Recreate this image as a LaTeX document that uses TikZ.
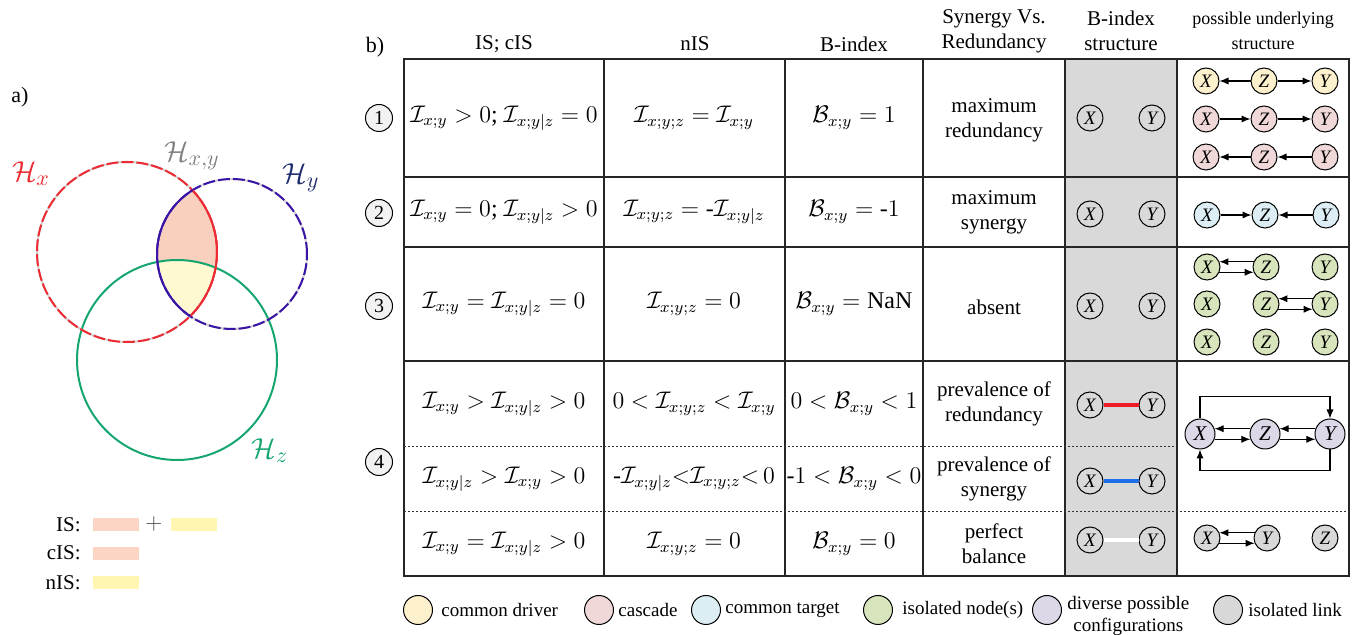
\documentclass[tikz,border=0pt]{standalone}
\usepackage{fontspec}
\setmainfont{Liberation Serif}
\usetikzlibrary{arrows.meta,calc}
\definecolor{hxred}{HTML}{EC2B33}
\definecolor{hyblue}{HTML}{3A14A6}
\definecolor{hylab}{HTML}{1C2A6E}
\definecolor{hzgreen}{HTML}{14A66E}
\definecolor{lensfill}{HTML}{F9CFBE}
\definecolor{corefill}{HTML}{FFF9D2}
\definecolor{legsalmon}{HTML}{FCD5C4}
\definecolor{legyellow}{HTML}{FFF6B2}
\definecolor{cdriver}{HTML}{FDF0CC}
\definecolor{ccascade}{HTML}{F0D8D8}
\definecolor{ctarget}{HTML}{DCEEF3}
\definecolor{cisol}{HTML}{D8E4BC}
\definecolor{cdiverse}{HTML}{DDD8E8}
\definecolor{clink}{HTML}{D8D8D8}
\definecolor{colgrey}{HTML}{D9D9D9}
\definecolor{bred}{HTML}{EE1C24}
\definecolor{bblue}{HTML}{1F6FEA}
\newcommand{\myI}{\mathcal{I}}
\newcommand{\myB}{\mathcal{B}}
\begin{document}
\begin{tikzpicture}[x=0.5pt,y=-0.5pt,
  txt/.style={align=center,inner sep=0pt,font=\rmfamily\fontsize{10.5}{12.5}\selectfont},
  hdr/.style={align=center,inner sep=0pt,font=\rmfamily\fontsize{10.5}{12.5}\selectfont},
  hdrsmall/.style={align=center,inner sep=0pt,font=\rmfamily\fontsize{9}{12.5}\selectfont},
  mth/.style={inner sep=0pt,font=\rmfamily\fontsize{12}{14}\selectfont},
  numc/.style={circle,draw,line width=0.5pt,fill=black!5,minimum size=13.5pt,inner sep=0pt,font=\rmfamily\fontsize{10}{10}\selectfont},
  snode/.style={circle,draw,line width=0.5pt,minimum size=13pt,inner sep=0pt,font=\rmfamily\fontsize{9.5}{10}\selectfont\itshape},
  bignode/.style={snode,minimum size=15pt,font=\rmfamily\fontsize{10.5}{10}\selectfont\itshape},
  arr/.style={-{Latex[length=4.5pt,width=3.6pt]},line width=0.55pt},
  tline/.style={line width=0.75pt,black!85},
  dotline/.style={line width=0.5pt,dash pattern=on 1.2pt off 0.8pt,black!80},
  legc/.style={circle,draw,line width=0.5pt,minimum size=14.5pt,inner sep=0pt},
  legt/.style={anchor=west,inner sep=0pt,align=center,font=\rmfamily\fontsize{9.5}{11}\selectfont},
  hlab/.style={inner sep=0pt,font=\fontsize{15}{16}\selectfont}]
\useasboundingbox (0,0) rectangle (1356,635);

% ---------------- a) Venn diagram
\node[txt,font=\rmfamily\fontsize{11}{12}\selectfont] (la) at (20,97) {a)};
\begin{scope}
  \clip (127,252) circle[radius=45pt];
  \fill[lensfill] (232,254) circle[radius=37.5pt];
  \clip (232,254) circle[radius=37.5pt];
  \fill[corefill] (177,360) circle[radius=50pt];
\end{scope}
\draw[hzgreen,line width=1pt] (177,360) circle[radius=50pt];
\draw[black!18,line width=1pt] (127,252) circle[radius=45pt];
\draw[black!18,line width=1pt] (232,254) circle[radius=37.5pt];
\draw[hxred,line width=1pt,dash pattern=on 6pt off 1.5pt] (127,252) circle[radius=45pt];
\draw[hyblue,line width=1pt,dash pattern=on 6pt off 1.5pt] (232,254) circle[radius=37.5pt];
\begin{scope}
  \clip (232,254) circle[radius=37.5pt];
  \draw[hxred,line width=1pt] (127,252) circle[radius=45pt];
\end{scope}
\begin{scope}
  \clip (127,252) circle[radius=45pt];
  \draw[hyblue,line width=1pt] (232,254) circle[radius=37.5pt];
\end{scope}
\node[hlab,text=hxred] (hx) at (31,174) {$\mathcal{H}_x$};
\node[hlab,text=black!50] (hxy) at (192,156) {$\mathcal{H}_{x,y}$};
\node[hlab,text=hylab] (hy) at (301,178) {$\mathcal{H}_y$};
\node[hlab,text=hzgreen] (hz) at (270,451) {$\mathcal{H}_z$};

% legend a)
\node[txt,anchor=east] (lis) at (81,525) {IS:};
\node[txt,anchor=east] (lcis) at (81,553) {cIS:};
\node[txt,anchor=east] (lnis) at (81,583) {nIS:};
\fill[legsalmon] (93,518) rectangle (139,531);
\node[txt,text=black!70] (lplus) at (154,524) {$+$};
\fill[legyellow] (171,518) rectangle (217,531);
\fill[legsalmon] (93,547) rectangle (139,560);
\fill[legyellow] (93,576) rectangle (139,589);

% ---------------- b) table
\node[txt,font=\rmfamily\fontsize{11}{12}\selectfont] (lb) at (375,47) {b)};
\fill[colgrey] (1065,59) rectangle (1177,576);
\draw[tline] (404,59) rectangle (1349,576);
\foreach \xx in {604,785,923,1065,1177} \draw[tline] (\xx,59) -- (\xx,576);
\foreach \yy in {177,247,361} \draw[tline] (404,\yy) -- (1349,\yy);
\draw[dotline] (404,447) -- (1177,447);
\draw[dotline] (404,512) -- (1349,512);

% headers
\node[hdr] (hd1) at (504,44) {IS; cIS};
\node[hdr] (hd2) at (695,44) {nIS};
\node[hdr] (hd3) at (854,44) {B-index};
\node[hdr] (hd4) at (994,31) {Synergy Vs.\\Redundancy};
\node[hdr] (hd5) at (1121,31) {B-index\\structure};
\node[hdrsmall] (hd6) at (1263,31) {possible underlying\\structure};

% row numbers
\node[numc] (n1) at (379,118) {1};
\node[numc] (n2) at (379,213) {2};
\node[numc] (n3) at (379,306) {3};
\node[numc] (n4) at (379,462) {4};

% row 1
\node[mth] (r1a) at (504,118) {$\myI_{x;y} > 0$; $\myI_{x;y|z} = 0$};
\node[mth] (r1b) at (694,118) {$\myI_{x;y;z} = \myI_{x;y}$};
\node[mth] (r1c) at (854,118) {$\myB_{x;y} = 1$};
\node[txt] (r1d) at (994,120) {maximum\\redundancy};
% row 2
\node[mth] (r2a) at (504,212) {$\myI_{x;y} = 0$; $\myI_{x;y|z} > 0$};
\node[mth] (r2b) at (694,212) {$\myI_{x;y;z} = \mbox{-}\myI_{x;y|z}$};
\node[mth] (r2c) at (854,212) {$\myB_{x;y} = \mbox{-}1$};
\node[txt] (r2d) at (994,212) {maximum\\synergy};
% row 3
\node[mth] (r3a) at (504,304) {$\myI_{x;y} = \myI_{x;y|z} = 0$};
\node[mth] (r3b) at (694,304) {$\myI_{x;y;z} = 0$};
\node[mth] (r3c) at (854,304) {$\myB_{x;y} = \mathrm{NaN}$};
\node[txt] (r3d) at (994,307) {absent};
% row 4a
\node[mth] (r4a) at (504,404) {$\myI_{x;y} > \myI_{x;y|z} > 0$};
\node[mth] (r4b) at (694,404) {$0 < \myI_{x;y;z} < \myI_{x;y}$};
\node[mth] (r4c) at (854,404) {$0 < \myB_{x;y} < 1$};
\node[txt] (r4d) at (994,404) {prevalence of\\redundancy};
% row 4b
\node[mth] (r5a) at (504,479) {$\myI_{x;y|z} > \myI_{x;y} > 0$};
\node[mth] (r5b) at (694,479) {$\mbox{-}\myI_{x;y|z} {<} \myI_{x;y;z} {<}\, 0$};
\node[mth] (r5c) at (854,479) {$\mbox{-}1 < \myB_{x;y} < 0$};
\node[txt] (r5d) at (994,479) {prevalence of\\synergy};
% row 4c
\node[mth] (r6a) at (504,544) {$\myI_{x;y} = \myI_{x;y|z} > 0$};
\node[mth] (r6b) at (694,544) {$\myI_{x;y;z} = 0$};
\node[mth] (r6c) at (854,544) {$\myB_{x;y} = 0$};
\node[txt] (r6d) at (994,544) {perfect\\balance};

% B-index structure column
\node[snode] (bx1) at (1090,118) {X}; \node[snode] (by1) at (1152,118) {Y};
\node[snode] (bx2) at (1090,214) {X}; \node[snode] (by2) at (1152,214) {Y};
\node[snode] (bx3) at (1090,306) {X}; \node[snode] (by3) at (1152,306) {Y};
\node[snode] (bx4) at (1090,405) {X}; \node[snode] (by4) at (1152,405) {Y};
\node[snode] (bx5) at (1090,481) {X}; \node[snode] (by5) at (1152,481) {Y};
\node[snode] (bx6) at (1090,540) {X}; \node[snode] (by6) at (1152,540) {Y};
\draw[bred,line width=1.6pt] (bx4) -- (by4);
\draw[bblue,line width=1.6pt] (bx5) -- (by5);
\draw[white,line width=1.6pt] (bx6) -- (by6);

% possible underlying structure
% row 1: common driver and cascades
\node[snode,fill=cdriver] (a1x) at (1206,81) {X};
\node[snode,fill=cdriver] (a1z) at (1264,81) {Z};
\node[snode,fill=cdriver] (a1y) at (1325,81) {Y};
\draw[arr] (a1z) -- (a1x); \draw[arr] (a1z) -- (a1y);
\node[snode,fill=ccascade] (a2x) at (1206,119) {X};
\node[snode,fill=ccascade] (a2z) at (1264,119) {Z};
\node[snode,fill=ccascade] (a2y) at (1325,119) {Y};
\draw[arr] (a2x) -- (a2z); \draw[arr] (a2z) -- (a2y);
\node[snode,fill=ccascade] (a3x) at (1206,157) {X};
\node[snode,fill=ccascade] (a3z) at (1264,157) {Z};
\node[snode,fill=ccascade] (a3y) at (1325,157) {Y};
\draw[arr] (a3y) -- (a3z); \draw[arr] (a3z) -- (a3x);
% row 2: common target
\node[snode,fill=ctarget] (t1x) at (1207,215) {X};
\node[snode,fill=ctarget] (t1z) at (1265,215) {Z};
\node[snode,fill=ctarget] (t1y) at (1326,215) {Y};
\draw[arr] (t1x) -- (t1z); \draw[arr] (t1y) -- (t1z);
% row 3: isolated nodes
\node[snode,fill=cisol] (g1x) at (1207,267) {X};
\node[snode,fill=cisol] (g1z) at (1266,267) {Z};
\node[snode,fill=cisol] (g1y) at (1325,267) {Y};
\draw[arr] (g1z.157) -- (g1x.23); \draw[arr] (g1x.-23) -- (g1z.203);
\node[snode,fill=cisol] (g2x) at (1207,304) {X};
\node[snode,fill=cisol] (g2z) at (1266,304) {Z};
\node[snode,fill=cisol] (g2y) at (1325,304) {Y};
\draw[arr] (g2y.157) -- (g2z.23); \draw[arr] (g2z.-23) -- (g2y.203);
\node[snode,fill=cisol] (g3x) at (1207,342) {X};
\node[snode,fill=cisol] (g3z) at (1266,342) {Z};
\node[snode,fill=cisol] (g3y) at (1325,342) {Y};
% row 4ab: diverse
\node[bignode,fill=cdiverse] (d4x) at (1200,434) {X};
\node[bignode,fill=cdiverse] (d4z) at (1265,434) {Z};
\node[bignode,fill=cdiverse] (d4y) at (1330,434) {Y};
\draw[arr] (d4z.160) -- (d4x.20); \draw[arr] (d4x.-20) -- (d4z.200);
\draw[arr] (d4y.160) -- (d4z.20); \draw[arr] (d4z.-20) -- (d4y.200);
\draw[arr] (d4x.north) -- ++(0,-22) -| (d4y.north);
\draw[arr] (d4y.south) -- ++(0,21) -| (d4x.south);
% row 4c: isolated link
\node[snode,fill=clink] (l4x) at (1207,538) {X};
\node[snode,fill=clink] (l4y) at (1267,538) {Y};
\node[snode,fill=clink] (l4z) at (1325,538) {Z};
\draw[arr] (l4y.157) -- (l4x.23); \draw[arr] (l4x.-23) -- (l4y.203);

% bottom legend
\node[legc,fill=cdriver] (k1) at (418,610) {};
\node[legt] (k1t) at (441,610) {common driver};
\node[legc,fill=ccascade] (k2) at (599,610) {};
\node[legt] (k2t) at (618,610) {cascade};
\node[legc,fill=ctarget] (k3) at (706,610) {};
\node[legt] (k3t) at (725,610) {common target};
\node[legc,fill=cisol] (k4) at (878,610) {};
\node[legt] (k4t) at (902,610) {isolated node(s)};
\node[legc,fill=cdiverse] (k5) at (1047,610) {};
\node[legt] (k5t) at (1067,616) {diverse possible\\configurations};
\node[legc,fill=clink] (k6) at (1228,610) {};
\node[legt] (k6t) at (1248,610) {isolated link};
\end{tikzpicture}
\end{document}
